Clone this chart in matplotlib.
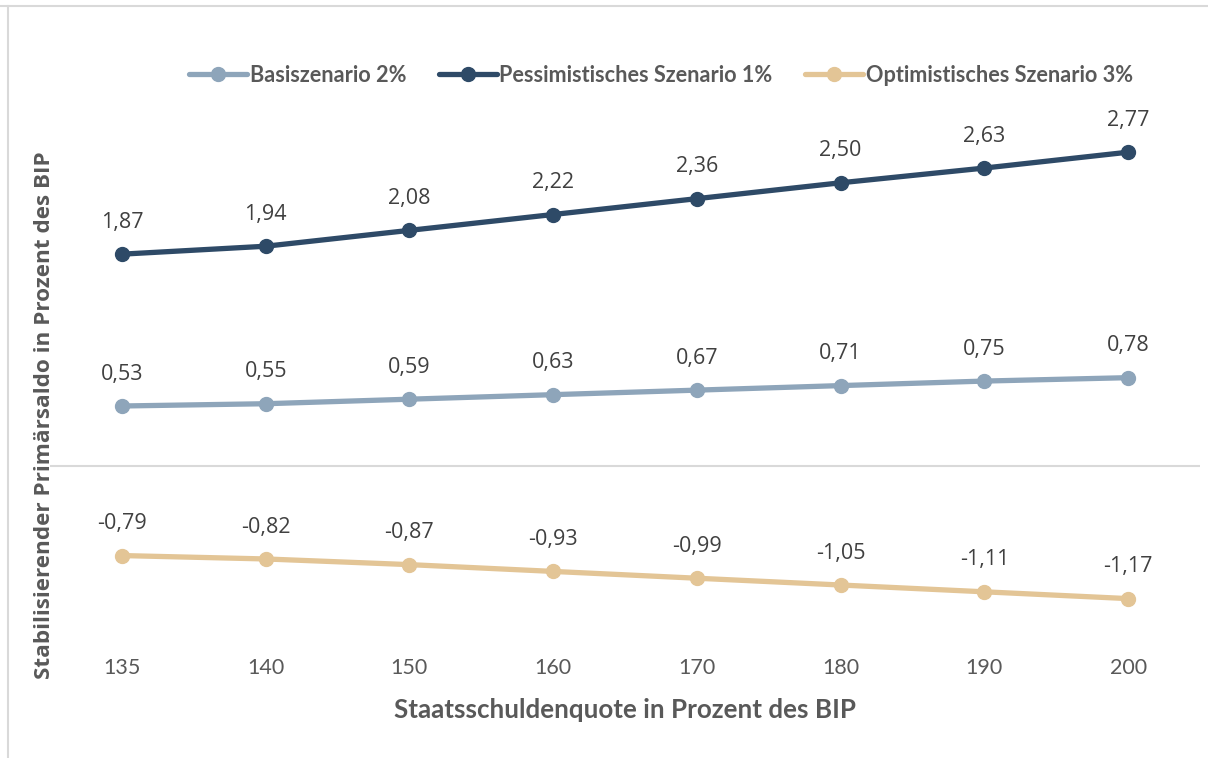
import numpy as np
import matplotlib.pyplot as plt
from matplotlib.lines import Line2D

quote = ['135', '140', '150', '160', '170', '180', '190', '200']
basis = [0.53, 0.55, 0.59, 0.63, 0.67, 0.71, 0.75, 0.78]
pessim = [1.87, 1.94, 2.08, 2.22, 2.36, 2.50, 2.63, 2.77]
optim = [-0.79, -0.82, -0.87, -0.93, -0.99, -1.05, -1.11, -1.17]

c_basis = '#8EA5BA'
c_pess = '#2E4A67'
c_opt = '#E3C596'
grey = '#595959'
narrow = ['Lato', 'DejaVu Sans']

fig = plt.figure(figsize=(12.08, 7.58), dpi=100)
ax = fig.add_axes([50 / 1208, 0.146, 1150 / 1208, 0.6876])
x = np.arange(len(quote))

series = [(basis, c_basis, 'Basiszenario 2%'),
          (pessim, c_pess, 'Pessimistisches Szenario 1%'),
          (optim, c_opt, 'Optimistisches Szenario 3%')]
for vals, col, lab in series:
    ax.plot(x, vals, color=col, lw=3.8, marker='o', ms=10, label=lab,
            solid_capstyle='round')
    for xi, v in zip(x, vals):
        ax.annotate(f'{v:.2f}'.replace('.', ','), (xi, v), xytext=(0, 23),
                    textcoords='offset points', ha='center', va='center',
                    fontsize=15.5, color='#404040', family='Open Sans')

ax.axhline(0, color='#D9D9D9', lw=1.5, zorder=0)
ax.set_xlim(-0.5, len(quote) - 0.5)
ax.set_ylim(-1.6, 3.0)
ax.set_xticks(x)
ax.set_xticklabels(quote, family=narrow, fontsize=15.5, color=grey)
ax.set_yticks([])
ax.tick_params(axis='x', length=0, pad=8)
for s in ax.spines.values():
    s.set_visible(False)

leg = fig.legend(loc='center', bbox_to_anchor=(0.547, 0.901), ncol=3,
                 frameon=False, handlelength=2.7, handletextpad=0.1,
                 columnspacing=1.5, prop={'family': narrow, 'weight': 'bold', 'size': 15.6})
for t in leg.get_texts():
    t.set_color(grey)

fig.text(45 / 1208, 0.4525, 'Stabilisierender Primärsaldo in Prozent des BIP',
         rotation=90, ha='center', va='center', fontsize=16.2, weight='bold',
         color=grey, family='Open Sans')
fig.text(625 / 1208, 0.0633, 'Staatsschuldenquote in Prozent des BIP',
         ha='center', va='center', fontsize=18.7, weight='bold', color=grey,
         family=narrow)

fig.add_artist(Line2D([0, 1], [1 - 6 / 758] * 2, color='#D9D9D9', lw=1.5))
fig.add_artist(Line2D([8 / 1208] * 2, [0, 1 - 6 / 758], color='#D9D9D9', lw=1.5))

fig.savefig('out.png', dpi=100)
